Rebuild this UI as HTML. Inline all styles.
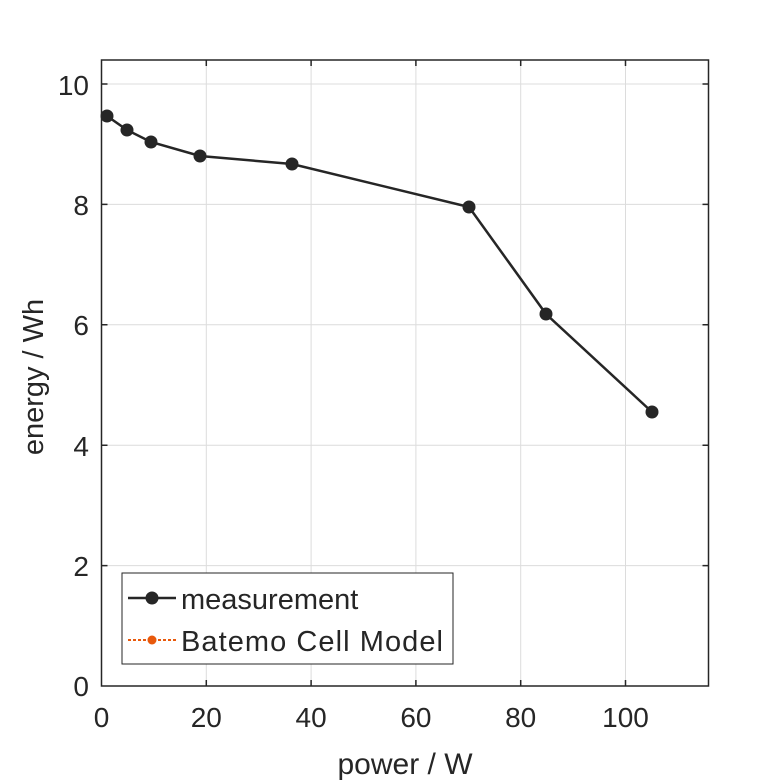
<!DOCTYPE html><html><head><style>body{margin:0;background:#fff}svg{display:block}text{font-family:"Liberation Sans",sans-serif;fill:#262626}</style></head><body>
<svg width="781" height="781" viewBox="0 0 781 781">
<rect x="101.5" y="60" width="607" height="626" fill="#fff"/>
<g stroke="#dcdcdc" stroke-width="1">
<line x1="206.3" y1="60" x2="206.3" y2="686"/><line x1="311.1" y1="60" x2="311.1" y2="686"/><line x1="415.9" y1="60" x2="415.9" y2="686"/><line x1="520.7" y1="60" x2="520.7" y2="686"/><line x1="625.5" y1="60" x2="625.5" y2="686"/>
<line x1="101.5" y1="84" x2="708.5" y2="84"/><line x1="101.5" y1="204.4" x2="708.5" y2="204.4"/><line x1="101.5" y1="324.8" x2="708.5" y2="324.8"/><line x1="101.5" y1="445.2" x2="708.5" y2="445.2"/><line x1="101.5" y1="565.6" x2="708.5" y2="565.6"/>
</g>
<g stroke="#262626" stroke-width="1.5">
<rect x="101.5" y="60" width="607" height="626" fill="none"/>
<path d="M206.3 686v-6M311.1 686v-6M415.9 686v-6M520.7 686v-6M625.5 686v-6M206.3 60v6M311.1 60v6M415.9 60v6M520.7 60v6M625.5 60v6M101.5 84h6M101.5 204.4h6M101.5 324.8h6M101.5 445.2h6M101.5 565.6h6M708.5 84h-6M708.5 204.4h-6M708.5 324.8h-6M708.5 445.2h-6M708.5 565.6h-6"/>
</g>
<polyline points="107,116 127,130 151,142 200,156 292,164 469,207 546,314 652,412" fill="none" stroke="#262626" stroke-width="2.5"/>
<g fill="#262626"><circle cx="107" cy="116" r="6.5"/><circle cx="127" cy="130" r="6.5"/><circle cx="151" cy="142" r="6.5"/><circle cx="200" cy="156" r="6.5"/><circle cx="292" cy="164" r="6.5"/><circle cx="469" cy="207" r="6.5"/><circle cx="546" cy="314" r="6.5"/><circle cx="652" cy="412" r="6.5"/></g>
<g font-size="28" text-anchor="middle">
<text x="101.5" y="727">0</text><text x="206.3" y="727">20</text><text x="311.1" y="727">40</text><text x="415.9" y="727">60</text><text x="520.7" y="727">80</text><text x="625.5" y="727">100</text>
</g>
<g font-size="28" text-anchor="end">
<text x="89" y="95">10</text><text x="89" y="215">8</text><text x="89" y="335">6</text><text x="89" y="456">4</text><text x="89" y="576">2</text><text x="89" y="696">0</text>
</g>
<text x="405" y="774" font-size="30" text-anchor="middle">power / W</text>
<text transform="translate(43 377) rotate(-90)" font-size="29" text-anchor="middle">energy / Wh</text>
<rect x="122" y="573" width="331" height="91" fill="#fff" stroke="#262626" stroke-width="1"/>
<line x1="128" y1="598" x2="176" y2="598" stroke="#262626" stroke-width="2.5"/><circle cx="152" cy="598" r="6.5" fill="#262626"/>
<text x="181" y="609" font-size="29">measurement</text>
<line x1="128" y1="640" x2="176" y2="640" stroke="#e8590c" stroke-width="2" stroke-dasharray="3,2"/><circle cx="152" cy="640" r="4.5" fill="#e8590c"/>
<text x="181" y="651" font-size="29" textLength="262">Batemo Cell Model</text>
</svg></body></html>
